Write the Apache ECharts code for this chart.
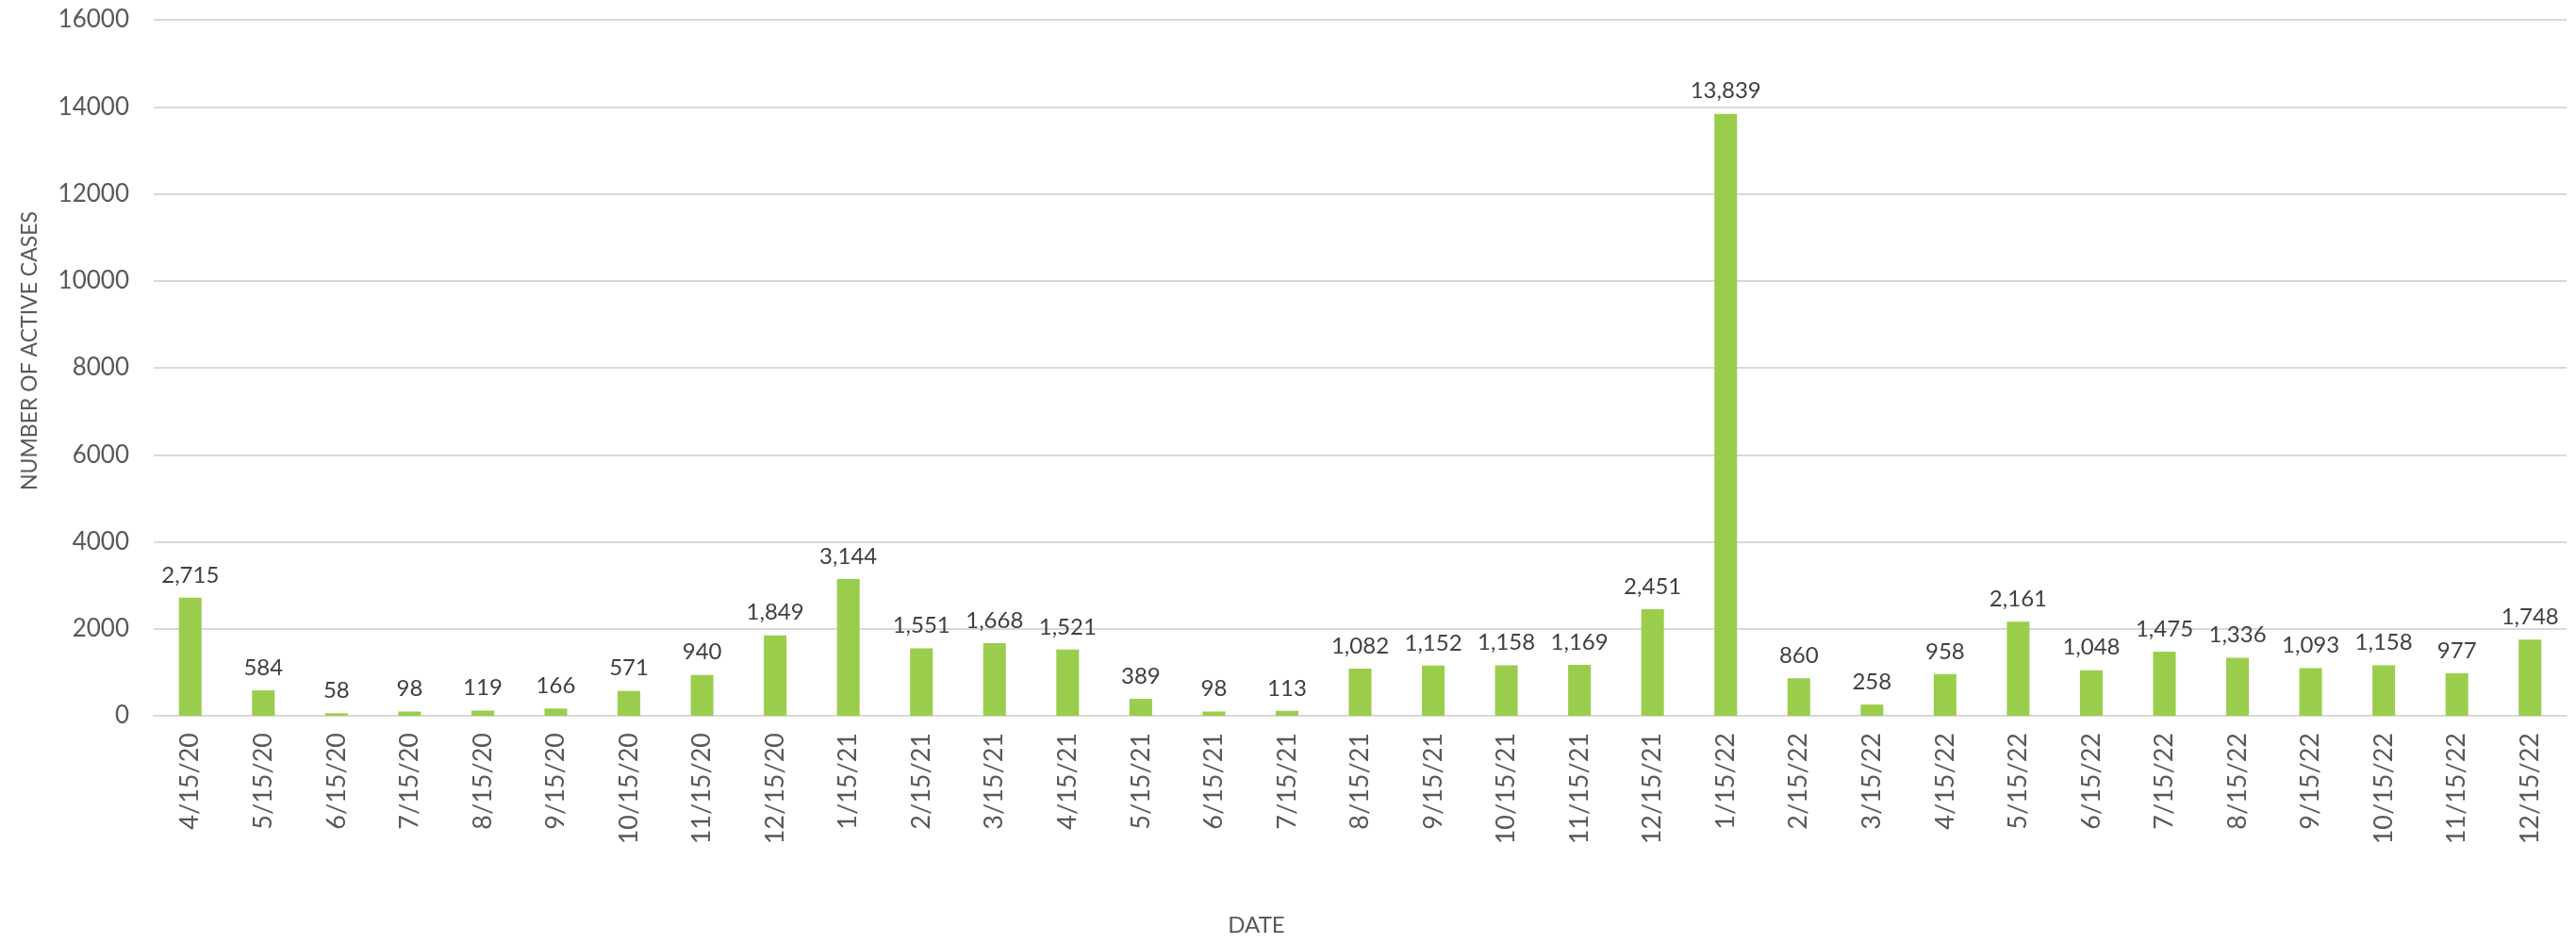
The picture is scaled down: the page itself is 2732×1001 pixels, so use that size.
<!DOCTYPE html>
<html>
<head>
<meta charset="utf-8">
<script src="https://cdn.jsdelivr.net/npm/echarts@6/dist/echarts.min.js"></script>
<style>
  html, body { margin: 0; padding: 0; background: #fff; }
  #chart { width: 2732px; height: 1001px; }
</style>
</head>
<body>
<div id="chart"></div>
<script>
const dates = [
  '4/15/20', '5/15/20', '6/15/20', '7/15/20', '8/15/20', '9/15/20', '10/15/20', '11/15/20', '12/15/20',
  '1/15/21', '2/15/21', '3/15/21', '4/15/21', '5/15/21', '6/15/21', '7/15/21', '8/15/21', '9/15/21',
  '10/15/21', '11/15/21', '12/15/21',
  '1/15/22', '2/15/22', '3/15/22', '4/15/22', '5/15/22', '6/15/22', '7/15/22', '8/15/22', '9/15/22',
  '10/15/22', '11/15/22', '12/15/22'
]
const activeCases = [
  2715, 584, 58, 98, 119, 166, 571, 940, 1849,
  3144, 1551, 1668, 1521, 389, 98, 113, 1082, 1152,
  1158, 1169, 2451,
  13839, 860, 258, 958, 2161, 1048, 1475, 1336, 1093,
  1158, 977, 1748
]

const fontFamily = 'Lato, "Open Sans", sans-serif'
const axisGrey = '#595959'

const myChart = echarts.init(document.getElementById('chart'))
let option = {
  animation: false,
  textStyle: { fontFamily: fontFamily },
  grid: { left: 163, right: 10, top: 21, bottom: 242 },
  xAxis: {
    type: 'category',
    data: dates,
    name: 'DATE',
    nameLocation: 'middle',
    nameGap: 210,
    nameTextStyle: { color: axisGrey, fontSize: 24, padding: [0, 220, 0, 0] },
    axisLine: { lineStyle: { color: '#d9d9d9', width: 2 } },
    axisTick: { show: false },
    axisLabel: {
      interval: 0,
      rotate: 90,
      margin: 18,
      color: axisGrey,
      fontSize: 27
    }
  },
  yAxis: {
    type: 'value',
    min: 0,
    max: 16000,
    interval: 2000,
    name: 'NUMBER OF ACTIVE CASES',
    nameLocation: 'middle',
    nameGap: 120,
    nameTextStyle: { color: axisGrey, fontSize: 23, padding: [0, 0, 0, 36] },
    axisLabel: { margin: 26, color: axisGrey, fontSize: 26, formatter: v => String(v) },
    splitLine: { lineStyle: { color: '#d9d9d9', width: 2 } }
  },
  series: [{
    type: 'bar',
    data: activeCases,
    barWidth: '31%',
    itemStyle: { color: '#9bcd4c' },
    label: {
      show: true,
      position: 'top',
      distance: 12,
      color: '#404040',
      fontSize: 24,
      formatter: p => p.value.toLocaleString('en-US')
    }
  }]
}
option && myChart.setOption(option)
</script>
</body>
</html>
